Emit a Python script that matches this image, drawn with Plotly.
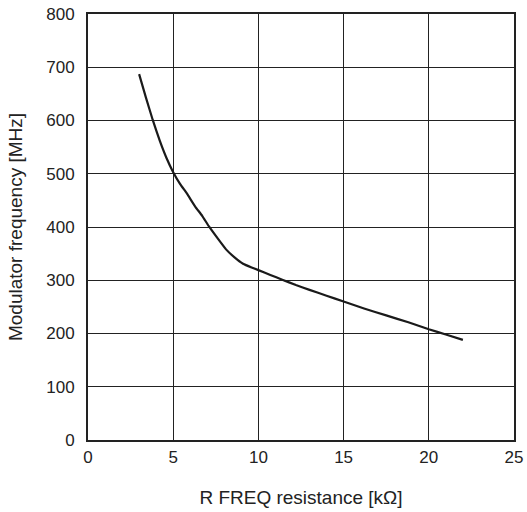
import plotly.graph_objects as go

resistance_kohm = [3.0, 3.4, 3.8, 4.2, 4.6, 5.0, 5.4, 5.8, 6.3, 6.7, 7.1, 7.6, 8.1, 8.6, 9.1, 9.6, 10.0, 10.7, 11.4, 12.2, 13.0, 14.0, 15.0, 16.2, 17.5, 18.8, 20.0, 21.0, 22.0]
frequency_mhz = [687, 643, 601, 563, 530, 503, 481, 463, 438, 421, 401, 379, 358, 343, 331, 324, 319, 310, 301, 291, 282, 271, 260, 247, 234, 221, 208, 198, 188]

x_ticks = [0, 5, 10, 15, 20, 25]
y_ticks = [0, 100, 200, 300, 400, 500, 600, 700, 800]

fig = go.Figure()
fig.add_trace(go.Scatter(
    x=resistance_kohm, y=frequency_mhz, mode="lines",
    line=dict(color="#1a1a1a", width=2.2, shape="spline", smoothing=0.3),
    showlegend=False, hoverinfo="skip"))

tick_font = dict(family="Liberation Sans", size=17, color="#222")
title_font = dict(family="Liberation Sans", size=19, color="#222")
fig.update_layout(
    width=527, height=512,
    margin=dict(l=88, r=13, t=14, b=72),
    paper_bgcolor="white", plot_bgcolor="white",
    font=tick_font,
    xaxis=dict(range=[0, 25], tickvals=x_ticks, showgrid=True, gridcolor="#222", gridwidth=1,
               showline=True, linecolor="#222", linewidth=2, mirror=True,
               ticks="", zeroline=False, ticklabelstandoff=1, automargin=False,
               ticklabeloverflow="allow", tickfont=tick_font,
               title=dict(text="R FREQ resistance [kΩ]", standoff=24, font=title_font)),
    yaxis=dict(range=[0, 800], tickvals=y_ticks, showgrid=True, gridcolor="#222", gridwidth=1,
               showline=True, linecolor="#222", linewidth=2, mirror=True,
               ticks="", zeroline=False, ticklabelstandoff=8, automargin=False,
               ticklabeloverflow="allow", tickfont=tick_font,
               title=dict(text="Modulator frequency [MHz]", standoff=19, font=title_font)),
)
fig.write_html(
    "out.html",
    config={"displayModeBar": False},
    post_script="document.documentElement.style.margin='0';document.body.style.margin='0';"
                "document.body.style.overflow='hidden';",
)
